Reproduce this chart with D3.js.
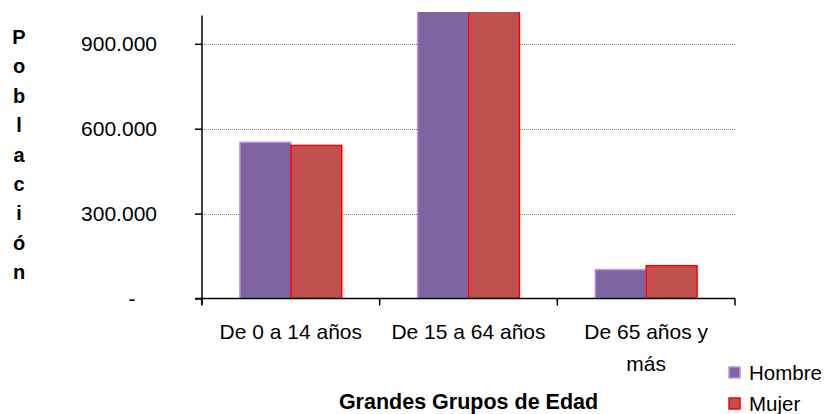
<!DOCTYPE html>
<html lang="es">
<head>
<meta charset="utf-8">
<title>Población por grandes grupos de edad</title>
<script src="https://d3js.org/d3.v7.min.js"></script>
<style>
  body { margin: 0; background: #fff; }
  svg { font-family: "Liberation Sans", Arial, sans-serif; }
  .tick text { font-size: 21px; fill: #000; }
</style>
</head>
<body>
<script>
// data
const categories = ["De 0 a 14 años", "De 15 a 64 años", "De 65 años y más"];
const series = ["Hombre", "Mujer"];
const hombre = [552000, 1560000, 102000];
const mujer = [541000, 1540000, 116000];
const yTicks = [0, 300000, 600000, 900000];
const yTitle = "Población";
const xTitle = "Grandes Grupos de Edad";

// config
const width = 827, height = 414;
const plot = { left: 202, right: 735, top: 15.5, bottom: 298.5 };
const fills = { Hombre: "#8064a2", Mujer: "#c0504d" };
const strokes = { Hombre: "#bf8ff0", Mujer: "#ff0000" };

const svg = d3.select("body").append("svg")
  .attr("width", width).attr("height", height);

const x = d3.scaleBand().domain(categories)
  .range([plot.left, plot.right])
  .paddingInner(0.427).paddingOuter(0.2135);
const xs = d3.scaleBand().domain(series).range([0, x.bandwidth()]);
const y = d3.scaleLinear().domain([0, 1000000]).range([plot.bottom, plot.top]);

// gridlines
svg.append("g").selectAll("line")
  .data(yTicks.filter(d => d > 0))
  .join("line")
  .attr("x1", plot.left).attr("x2", plot.right)
  .attr("y1", d => Math.round(y(d)) + 0.5).attr("y2", d => Math.round(y(d)) + 0.5)
  .attr("stroke", "#8a8a8a").attr("stroke-width", 1)
  .attr("stroke-dasharray", "1,1");

// bars (the middle group goes past the top of the axis and is cut)
svg.append("clipPath").attr("id", "clip")
  .append("rect")
  .attr("x", plot.left).attr("y", plot.top - 3.5)
  .attr("width", plot.right - plot.left).attr("height", plot.bottom - plot.top + 3.5);

const rows = categories.map((c, i) => ({ cat: c, Hombre: hombre[i], Mujer: mujer[i] }));
svg.append("g").attr("clip-path", "url(#clip)")
  .selectAll("g").data(rows).join("g")
  .attr("transform", d => `translate(${x(d.cat)},0)`)
  .selectAll("rect")
  .data(d => series.map(s => ({ s, v: d[s] })))
  .join("rect")
  .attr("x", d => xs(d.s))
  .attr("y", d => y(d.v))
  .attr("width", xs.bandwidth())
  .attr("height", d => plot.bottom - y(d.v))
  .attr("fill", d => fills[d.s])
  .attr("stroke", d => strokes[d.s])
  .attr("stroke-width", 1.5);

// y axis
const yAxis = svg.append("g")
  .attr("transform", `translate(${plot.left},0)`)
  .call(d3.axisLeft(y).tickValues(yTicks).tickSize(7).tickPadding(38)
    .tickFormat(d => d === 0 ? "-" : d3.format(",")(d).replace(/,/g, ".")));
yAxis.select(".domain").remove();
yAxis.selectAll(".tick line").attr("stroke", "#000").attr("stroke-width", 1.5);
yAxis.selectAll(".tick text").filter(d => d === 0)
  .attr("text-anchor", "middle").attr("x", -70);
svg.append("line")
  .attr("x1", plot.left).attr("x2", plot.left)
  .attr("y1", plot.top).attr("y2", plot.bottom + 6)
  .attr("stroke", "#000").attr("stroke-width", 1.5);

// x axis
svg.append("line")
  .attr("x1", plot.left - 7).attr("x2", plot.right)
  .attr("y1", plot.bottom).attr("y2", plot.bottom)
  .attr("stroke", "#000").attr("stroke-width", 1.5);
svg.append("g").selectAll("line")
  .data(d3.range(categories.length + 1))
  .join("line")
  .attr("x1", i => plot.left + i * x.step()).attr("x2", i => plot.left + i * x.step())
  .attr("y1", plot.bottom).attr("y2", plot.bottom + 7)
  .attr("stroke", "#000").attr("stroke-width", 1.5);

const xAxis = svg.append("g")
  .attr("transform", `translate(0,${plot.bottom})`)
  .call(d3.axisBottom(x).tickSize(0).tickPadding(26));
xAxis.select(".domain").remove();
xAxis.selectAll(".tick text").each(function (d) {
  const t = d3.select(this);
  if (d === "De 65 años y más") {
    t.text(null);
    t.append("tspan").attr("x", 0).attr("dy", "0.71em").text("De 65 años y");
    t.append("tspan").attr("x", 0).attr("dy", 32).text("más");
    t.attr("dy", null);
  }
});

// axis titles
svg.append("text")
  .attr("x", (plot.left + plot.right) / 2).attr("y", 409)
  .attr("text-anchor", "middle")
  .attr("font-size", 21.5).attr("font-weight", "bold")
  .text(xTitle);

svg.append("g").selectAll("text")
  .data(yTitle.split(""))
  .join("text")
  .attr("x", 19).attr("y", (d, i) => 44 + i * 29.4)
  .attr("text-anchor", "middle")
  .attr("font-size", 20).attr("font-weight", "bold")
  .text(d => d);

// legend
const legend = svg.append("g").selectAll("g")
  .data(series).join("g")
  .attr("transform", (d, i) => `translate(729,${367 + i * 31})`);
legend.append("rect")
  .attr("width", 11).attr("height", 11)
  .attr("fill", d => fills[d]).attr("stroke", d => strokes[d]).attr("stroke-width", 1.5);
legend.append("text")
  .attr("x", 20).attr("y", 6).attr("dy", "0.35em")
  .attr("font-size", 20.5)
  .text(d => d);
</script>
</body>
</html>
